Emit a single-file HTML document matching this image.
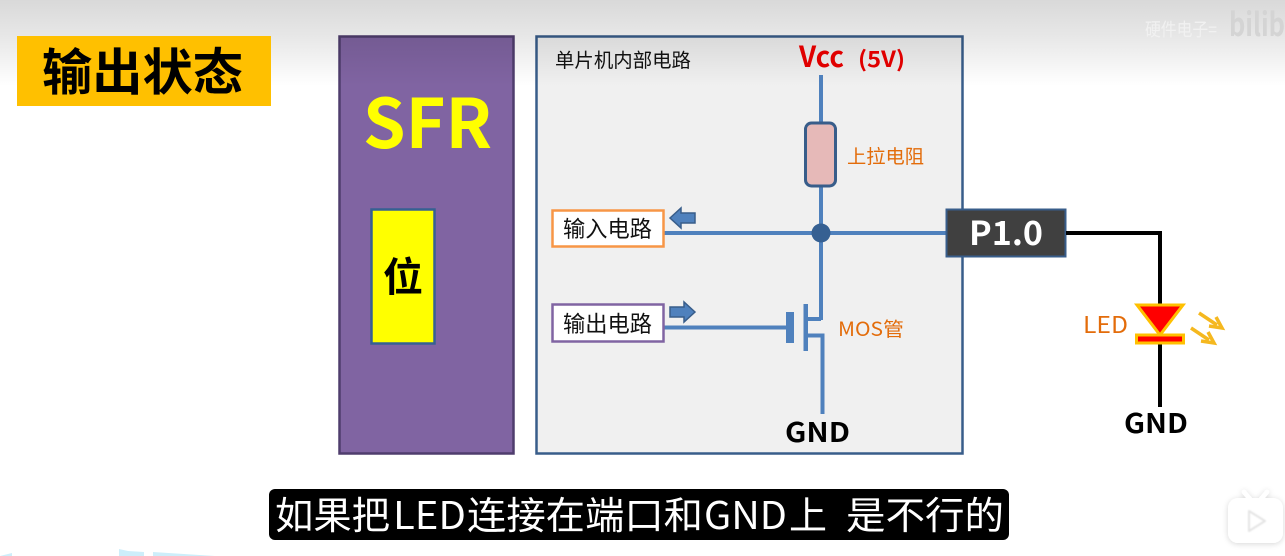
<!DOCTYPE html>
<html><head><meta charset="utf-8"><style>
html,body{margin:0;padding:0;width:1285px;height:556px;overflow:hidden;background:#fff}
svg{display:block}
text{font-family:"Noto Sans CJK SC","Liberation Sans",sans-serif}
</style></head><body>
<svg width="1285" height="556" viewBox="0 0 1285 556" xmlns="http://www.w3.org/2000/svg">
<defs>
<linearGradient id="top" x1="0" y1="0" x2="0" y2="1"><stop offset="0" stop-color="#000" stop-opacity="0.15"/><stop offset="0.45" stop-color="#000" stop-opacity="0.09"/><stop offset="1" stop-color="#000" stop-opacity="0"/></linearGradient>
<filter id="sh" x="-30%" y="-30%" width="160%" height="160%"><feDropShadow dx="0" dy="1" stdDeviation="3" flood-color="#000" flood-opacity="0.16"/></filter>
<filter id="soft" x="-10%" y="-10%" width="120%" height="120%"><feGaussianBlur stdDeviation="0.7"/></filter>
</defs>
<rect width="1285" height="556" fill="#fff"/>

<!-- SFR -->
<rect x="339.500" y="36.500" width="174" height="417" fill="#8064a2" stroke="#4f3d6d" stroke-width="2.500"/>
<text x="363" y="148" font-size="68" font-weight="bold" fill="#ffff00" textLength="129" lengthAdjust="spacingAndGlyphs">SFR</text>
<rect x="371.500" y="209.500" width="63" height="134" fill="#ffff00" stroke="#366092" stroke-width="2.500"/>
<text x="383" y="291" font-size="40" font-weight="bold" fill="#000">位</text>

<!-- inner box -->
<rect x="536.500" y="36.500" width="426" height="417" fill="#f0f0f0" stroke="#385d8a" stroke-width="2.500"/>

<!-- top gradient overlay -->
<rect width="1285" height="86" fill="url(#top)"/>

<!-- title -->
<rect x="17" y="36" width="254" height="70" fill="#ffc000"/>
<text x="42" y="90" font-size="50" font-weight="bold" fill="#000" textLength="201" lengthAdjust="spacingAndGlyphs">输出状态</text>

<!-- watermark -->
<text x="1145" y="36" font-size="18" fill="#f1f1f1" textLength="72" lengthAdjust="spacingAndGlyphs">硬件电子=</text>
<text x="1229" y="36" font-size="32" font-weight="bold" fill="#d4d4d4" textLength="56" lengthAdjust="spacingAndGlyphs">bilib</text>

<text x="555" y="67" font-size="19.500" fill="#111" textLength="136" lengthAdjust="spacingAndGlyphs">单片机内部电路</text>
<text x="799" y="67" font-size="29" font-weight="bold" fill="#e00000" textLength="45" lengthAdjust="spacingAndGlyphs">Vcc</text>
<text x="858" y="67" font-size="22" font-weight="bold" fill="#e00000" textLength="47" lengthAdjust="spacingAndGlyphs">(5V)</text>

<!-- wires -->
<g stroke="#4f81bd" stroke-width="4" fill="none">
<line x1="821" y1="75" x2="821" y2="124"/>
<line x1="821" y1="186" x2="821" y2="320"/>
<line x1="664" y1="233" x2="947" y2="233"/>
<line x1="664" y1="327.500" x2="787" y2="327.500"/>
<polyline points="807,319 821,319"/>
<polyline points="807,335.500 822.500,335.500 822.500,414"/>
</g>
<rect x="786" y="312" width="8" height="31" fill="#4f81bd"/>
<rect x="803.500" y="304" width="4.500" height="47" fill="#4f81bd"/>
<circle cx="821" cy="233" r="9.500" fill="#366092"/>

<!-- resistor -->
<rect x="805.500" y="123" width="30" height="63" rx="6" fill="#e6b9b8" stroke="#385d8a" stroke-width="3"/>
<text x="847" y="163" font-size="19" fill="#e36c0a" textLength="77" lengthAdjust="spacingAndGlyphs">上拉电阻</text>

<!-- input/output boxes -->
<rect x="552.500" y="210.500" width="111" height="36" fill="#fff" stroke="#f79646" stroke-width="2.500"/>
<text x="563" y="237" font-size="22.500" fill="#111" textLength="89" lengthAdjust="spacingAndGlyphs">输入电路</text>
<rect x="552.500" y="304.500" width="111" height="37" fill="#fff" stroke="#8064a2" stroke-width="2.500"/>
<text x="563" y="332" font-size="22.500" fill="#111" textLength="89" lengthAdjust="spacingAndGlyphs">输出电路</text>

<!-- small arrows -->
<polygon points="670,218 681,208 681,213 695,213 695,223 681,223 681,228" fill="#4f81bd" stroke="#385d8a" stroke-width="1.500"/>
<polygon points="695,312 684,302 684,307 670,307 670,317 684,317 684,322" fill="#4f81bd" stroke="#385d8a" stroke-width="1.500"/>

<text x="838" y="336" font-size="19.500" fill="#e36c0a" textLength="66" lengthAdjust="spacingAndGlyphs">MOS管</text>
<text x="785" y="442" font-size="27" font-weight="bold" fill="#000" textLength="65" lengthAdjust="spacingAndGlyphs">GND</text>

<!-- P1.0 -->
<rect x="946.500" y="209.500" width="119" height="47" fill="#404040" stroke="#385d8a" stroke-width="2"/>
<text x="969" y="245" font-size="33" font-weight="bold" fill="#fff" textLength="74" lengthAdjust="spacingAndGlyphs">P1.0</text>

<!-- external wire -->
<polyline points="1066,233 1160,233 1160,306" fill="none" stroke="#000" stroke-width="4"/>
<line x1="1160" y1="342" x2="1160" y2="407" stroke="#000" stroke-width="4"/>

<!-- LED -->
<polygon points="1137,305 1183,305 1160,335" fill="#ff0000" stroke="#ffc000" stroke-width="3"/>
<rect x="1136.500" y="335" width="47" height="8" fill="#ff0000" stroke="#ffc000" stroke-width="3"/>
<g stroke="#f5b81f" stroke-width="3.500" fill="#f5b81f">
<line x1="1199" y1="313" x2="1217" y2="325"/>
<polyline points="1209,326 1222,328 1216,317" fill="none"/>
<line x1="1191" y1="328" x2="1209" y2="340"/>
<polyline points="1201,341 1214,343 1208,332" fill="none"/>
</g>
<text x="1083" y="333" font-size="23" fill="#e36c0a" textLength="45" lengthAdjust="spacingAndGlyphs">LED</text>
<text x="1124" y="433" font-size="27" font-weight="bold" fill="#000" textLength="64" lengthAdjust="spacingAndGlyphs">GND</text>

<!-- subtitle -->
<rect x="269" y="489" width="740" height="51" rx="6" fill="#000"/>
<g font-size="38" font-weight="400" fill="#fff">
<text x="275" y="529" textLength="115" lengthAdjust="spacingAndGlyphs">如果把</text>
<text x="393" y="529" textLength="73" lengthAdjust="spacingAndGlyphs">LED</text>
<text x="467" y="529" textLength="236" lengthAdjust="spacingAndGlyphs">连接在端口和</text>
<text x="704" y="529" textLength="83" lengthAdjust="spacingAndGlyphs">GND</text>
<text x="789" y="529" textLength="38" lengthAdjust="spacingAndGlyphs">上</text>
<text x="846" y="529" textLength="158" lengthAdjust="spacingAndGlyphs">是不行的</text>
</g>

<!-- bottom blue fragments -->
<polygon points="0,556 12,553 12,556" fill="#cdeefa"/>
<polygon points="119,556 119,549 128,551 144,552 144,556" fill="#cdeefa"/>
<polygon points="153,556 153,552 215,556" fill="#cdeefa"/>

<!-- tv icon -->
<g filter="url(#sh)">
<rect x="1228" y="498" width="55" height="45" rx="10" fill="#fff"/>
<line x1="1244" y1="492" x2="1250" y2="499" stroke="#fff" stroke-width="4.500" stroke-linecap="round"/>
<line x1="1267" y1="492" x2="1261" y2="499" stroke="#fff" stroke-width="4.500" stroke-linecap="round"/>
</g>
<polygon points="1249,511 1265,521 1249,531" fill="#fff" stroke="#e4e4e4" stroke-width="2" stroke-linejoin="round" filter="url(#soft)"/>
</svg>
</body></html>
